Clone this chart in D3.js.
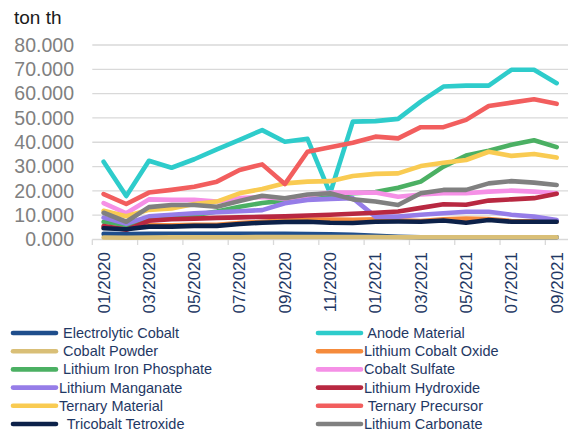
<!DOCTYPE html>
<html>
<head>
<meta charset="utf-8">
<script src="https://cdn.jsdelivr.net/npm/d3@7"></script>
<style>
  body { margin: 0; background: #fff; }
  text { font-family: "Liberation Sans", Arial, sans-serif; }
</style>
</head>
<body>
<svg id="chart" width="568" height="434"></svg>
<script>
var months = ["01/2020","02/2020","03/2020","04/2020","05/2020","06/2020","07/2020","08/2020","09/2020","10/2020","11/2020","12/2020",
              "01/2021","02/2021","03/2021","04/2021","05/2021","06/2021","07/2021","08/2021","09/2021"];
var tickLabels = ["01/2020","03/2020","05/2020","07/2020","09/2020","11/2020","01/2021","03/2021","05/2021","07/2021","09/2021"];
var yTicks = [0, 10, 20, 30, 40, 50, 60, 70, 80];

// values in thousand tons, series in legend order
var electrolyticCobalt = [2.3, 2.2, 2.3, 2.3, 2.3, 2.3, 2.3, 2.3, 2.3, 2.2, 2.1, 1.9, 1.5, 1.1, 0.9, 0.9, 0.9, 0.9, 0.9, 0.9, 0.9];
var anodeMaterial = [32.0, 17.9, 32.4, 29.5, 33.0, 37.1, 41.0, 45.0, 40.2, 41.4, 19.0, 48.5, 48.7, 49.6, 56.7, 62.9, 63.3, 63.3, 69.8, 69.8, 64.3];
var cobaltPowder = [0.8, 0.7, 0.8, 0.9, 0.9, 0.9, 0.9, 1.0, 1.0, 1.0, 1.0, 1.0, 1.0, 0.9, 0.9, 0.9, 0.9, 0.9, 0.9, 0.9, 0.9];
var lithiumCobaltOxide = [5.0, 4.6, 5.8, 5.8, 6.0, 6.0, 6.8, 7.3, 7.9, 8.2, 8.2, 8.1, 8.3, 7.9, 7.6, 8.3, 8.6, 8.4, 7.6, 7.5, 7.4];
var lithiumIronPhosphate = [7.3, 6.0, 8.0, 9.0, 10.0, 11.5, 13.5, 15.0, 16.0, 17.0, 18.0, 19.0, 19.5, 21.3, 23.8, 30.0, 34.5, 36.5, 39.0, 40.8, 38.0];
var cobaltSulfate = [15.0, 10.8, 16.5, 16.3, 16.3, 15.6, 17.0, 17.5, 16.8, 18.0, 19.3, 19.3, 19.3, 17.6, 18.5, 19.0, 19.0, 19.7, 20.1, 19.7, 19.0];
var lithiumManganate = [9.0, 6.5, 9.5, 10.2, 10.8, 11.2, 11.6, 12.1, 14.9, 16.3, 16.7, 17.0, 9.4, 9.4, 10.2, 10.8, 11.4, 11.4, 10.2, 9.4, 8.0];
var lithiumHydroxide = [5.5, 4.0, 7.7, 8.3, 8.6, 8.9, 9.1, 9.3, 9.5, 9.9, 10.2, 10.6, 11.0, 11.5, 13.0, 14.5, 14.3, 16.0, 16.5, 17.0, 18.8];
var ternaryMaterial = [11.8, 9.6, 12.2, 12.8, 14.6, 15.6, 19.0, 20.8, 23.1, 23.8, 24.0, 26.1, 27.0, 27.2, 30.2, 31.6, 32.7, 36.1, 34.4, 35.2, 33.7];
var ternaryPrecursor = [18.7, 14.6, 19.3, 20.4, 21.7, 23.8, 28.6, 30.9, 22.8, 36.1, 37.9, 39.8, 42.3, 41.6, 46.2, 46.2, 49.2, 54.9, 56.3, 57.7, 55.8];
var tricobaltTetroxide = [4.6, 4.2, 5.3, 5.3, 5.6, 5.6, 6.4, 6.9, 7.2, 7.3, 6.9, 6.8, 7.3, 7.4, 7.3, 7.8, 6.9, 8.0, 7.3, 7.3, 7.3];
var lithiumCarbonate = [11.0, 7.3, 13.3, 14.2, 14.2, 13.5, 15.8, 18.0, 17.0, 18.5, 19.0, 16.5, 15.6, 14.2, 19.0, 20.4, 20.4, 23.1, 24.0, 23.4, 22.4];

var seriesNames = [" Electrolytic Cobalt", " Anode Material", " Cobalt Powder", "Lithium Cobalt Oxide", " Lithium Iron Phosphate", "Cobalt Sulfate",
                   "Lithium Manganate", "Lithium Hydroxide", "Ternary Material", " Ternary Precursor", "  Tricobalt Tetroxide", "Lithium Carbonate"];
var seriesValues = [electrolyticCobalt, anodeMaterial, cobaltPowder, lithiumCobaltOxide, lithiumIronPhosphate, cobaltSulfate,
                    lithiumManganate, lithiumHydroxide, ternaryMaterial, ternaryPrecursor, tricobaltTetroxide, lithiumCarbonate];
var colors = ["#1f4e8c", "#2ecccb", "#d9bf77", "#f58b3c", "#4bb063", "#f590e6",
              "#967de8", "#b82841", "#f9cb52", "#f25e5e", "#0c2149", "#808080"];

var svg = d3.select("#chart");

var x = d3.scaleBand().domain(months).range([92.3, 568]);
var y = d3.scaleLinear().domain([0, 80]).range([239.5, 45]);

// gridlines
svg.append("g")
  .selectAll("line")
  .data(yTicks.slice(1))
  .enter()
  .append("line")
  .attr("x1", 92.3)
  .attr("x2", 568)
  .attr("y1", function(d) { return y(d); })
  .attr("y2", function(d) { return y(d); })
  .style("stroke", "#d9d9d9")
  .style("stroke-width", 1.3);

// y labels
svg.append("g")
  .selectAll("text")
  .data(yTicks)
  .enter()
  .append("text")
  .attr("x", 74)
  .attr("y", function(d) { return y(d); })
  .attr("dy", "0.35em")
  .attr("text-anchor", "end")
  .style("font-size", "19.5px")
  .style("fill", "#808080")
  .text(d3.format(".3f"));

svg.append("text")
  .attr("x", 14)
  .attr("y", 24)
  .style("font-size", "19px")
  .style("fill", "#1a1a1a")
  .text("ton th");

// x axis line and ticks
svg.append("line")
  .attr("x1", 92.3).attr("x2", 568)
  .attr("y1", y(0)).attr("y2", y(0))
  .style("stroke", "#d9d9d9")
  .style("stroke-width", 1.3);

svg.append("g")
  .selectAll("line")
  .data(tickLabels)
  .enter()
  .append("line")
  .attr("x1", function(d) { return x(d); })
  .attr("x2", function(d) { return x(d); })
  .attr("y1", y(0))
  .attr("y2", y(0) + 5.5)
  .style("stroke", "#d9d9d9")
  .style("stroke-width", 1.3);

svg.append("g")
  .selectAll("text")
  .data(tickLabels)
  .enter()
  .append("text")
  .attr("transform", function(d) {
    return "translate(" + (x(d) + x.bandwidth() / 2) + ",252) rotate(-90)";
  })
  .attr("text-anchor", "end")
  .attr("dy", "0.35em")
  .style("font-size", "17px")
  .style("fill", "#1f3864")
  .text(function(d) { return d; });

// lines
var line = d3.line()
  .x(function(d, i) { return x(months[i]) + x.bandwidth() / 2; })
  .y(function(d) { return y(d); });

svg.append("g")
  .selectAll("path")
  .data(seriesValues)
  .enter()
  .append("path")
  .attr("d", line)
  .style("fill", "none")
  .style("stroke", function(d, i) { return colors[i]; })
  .style("stroke-width", 4.6)
  .style("stroke-linejoin", "round")
  .style("stroke-linecap", "round");

// legend, two columns
var legend = svg.append("g")
  .selectAll("g")
  .data(seriesNames)
  .enter()
  .append("g")
  .attr("transform", function(d, i) {
    var col = i % 2;
    var row = Math.floor(i / 2);
    return "translate(" + (col === 0 ? 13 : 318) + "," + (333 + row * 18.2) + ")";
  });

legend.append("line")
  .attr("x1", 0).attr("x2", 43)
  .attr("y1", 0).attr("y2", 0)
  .style("stroke", function(d, i) { return colors[i]; })
  .style("stroke-width", 4.6)
  .style("stroke-linecap", "round");

legend.append("text")
  .attr("x", 46)
  .attr("dy", "0.35em")
  .attr("xml:space", "preserve")
  .style("white-space", "pre")
  .style("font-size", "14.5px")
  .style("fill", "#1f3864")
  .text(function(d) { return d; });
</script>
</body>
</html>
